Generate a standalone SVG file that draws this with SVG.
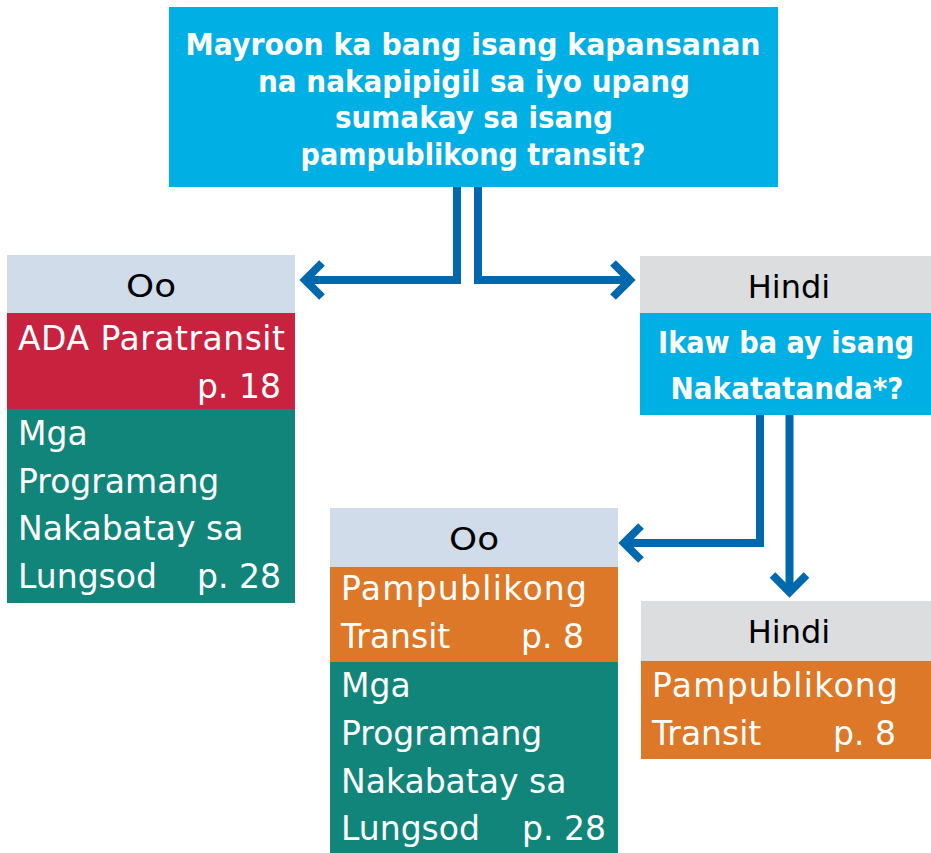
<svg xmlns="http://www.w3.org/2000/svg" width="931" height="853" viewBox="0 0 931 853">
<style>
.t{font-family:"DejaVu Sans","Liberation Sans",sans-serif;font-size:33px;fill:#fff}
.h{font-family:"DejaVu Sans","Liberation Sans",sans-serif;font-size:32px;fill:#000;text-anchor:middle}
.b{font-family:"DejaVu Sans","Liberation Sans",sans-serif;font-size:30px;font-weight:bold;fill:#fff;text-anchor:middle}
.r{text-anchor:end}
.c{fill:none;stroke:#0068AD;stroke-width:8;stroke-linejoin:miter}
</style>
<rect width="931" height="853" fill="#fff"/>
<g id="q1">
<rect x="169" y="7" width="609" height="180" fill="#00B0E4"/>
<text class="b" x="473" y="55" textLength="575" lengthAdjust="spacingAndGlyphs">Mayroon ka bang isang kapansanan</text>
<text class="b" x="474" y="92" textLength="432" lengthAdjust="spacingAndGlyphs">na nakapipigil sa iyo upang</text>
<text class="b" x="474" y="128" textLength="278" lengthAdjust="spacingAndGlyphs">sumakay sa isang</text>
<text class="b" x="473" y="165" textLength="345" lengthAdjust="spacingAndGlyphs">pampublikong transit?</text>
</g>
<g id="yes1">
<rect x="7" y="255" width="288" height="58" fill="#D1DCEB"/>
<rect x="7" y="313" width="288" height="96" fill="#C8223F"/>
<rect x="7" y="409" width="288" height="194" fill="#12857A"/>
<text class="h" x="151" y="297" font-size="35" textLength="50" lengthAdjust="spacingAndGlyphs">Oo</text>
<text class="t" x="18" y="350" textLength="267">ADA Paratransit</text>
<text class="t r" x="281" y="398">p. 18</text>
<text class="t" x="18" y="445">Mga</text>
<text class="t" x="18" y="493">Programang</text>
<text class="t" x="18" y="540">Nakabatay sa</text>
<text class="t" x="18" y="588">Lungsod</text>
<text class="t r" x="281" y="588">p. 28</text>
</g>
<g id="no1">
<rect x="640" y="256" width="291" height="57" fill="#DCDDDF"/>
<rect x="640" y="313" width="291" height="102" fill="#00B0E4"/>
<text class="h" x="789" y="298">Hindi</text>
<text class="b" x="786" y="353" font-size="28" textLength="256" lengthAdjust="spacingAndGlyphs">Ikaw ba ay isang</text>
<text class="b" x="787" y="399" textLength="233" lengthAdjust="spacingAndGlyphs">Nakatatanda*?</text>
</g>
<g id="yes2">
<rect x="330" y="508" width="288" height="59" fill="#D1DCEB"/>
<rect x="330" y="567" width="288" height="95" fill="#DC7828"/>
<rect x="330" y="662" width="288" height="191" fill="#12857A"/>
<text class="h" x="474" y="550" font-size="35" textLength="50" lengthAdjust="spacingAndGlyphs">Oo</text>
<text class="t" x="341" y="600" textLength="246">Pampublikong</text>
<text class="t" x="341" y="648">Transit</text>
<text class="t r" x="584" y="648">p. 8</text>
<text class="t" x="341" y="697">Mga</text>
<text class="t" x="341" y="745">Programang</text>
<text class="t" x="341" y="793">Nakabatay sa</text>
<text class="t" x="341" y="840">Lungsod</text>
<text class="t r" x="606" y="840">p. 28</text>
</g>
<g id="no2">
<rect x="641" y="601" width="290" height="60" fill="#DCDDDF"/>
<rect x="641" y="661" width="290" height="98" fill="#DC7828"/>
<text class="h" x="789" y="643">Hindi</text>
<text class="t" x="652" y="697" textLength="246">Pampublikong</text>
<text class="t" x="652" y="745">Transit</text>
<text class="t r" x="896" y="745">p. 8</text>
</g>
<g id="connectors">
<path class="c" d="M457 187V280H306"/>
<path class="c" d="M322 263L305 280L322 297"/>
<path class="c" d="M478 187V280H630"/>
<path class="c" d="M613 263L630 280L613 297"/>
<path class="c" d="M760 415V543H626"/>
<path class="c" d="M641 526L624 543L641 560"/>
<path class="c" d="M789.5 415V592"/>
<path class="c" d="M772.5 575L789.5 592L806.5 575"/>
</g>
</svg>
